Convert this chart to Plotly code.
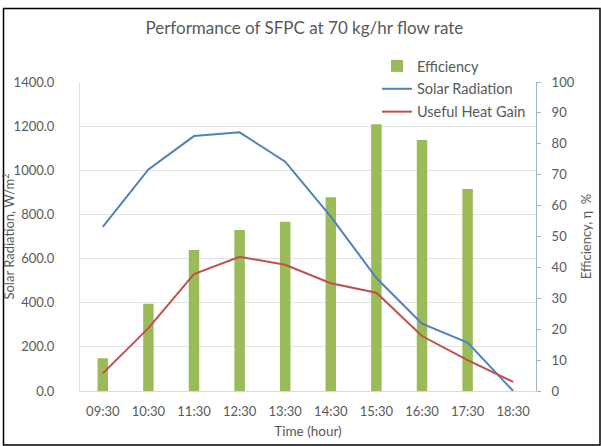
import plotly.graph_objects as go

times = ["09:30", "10:30", "11:30", "12:30", "13:30", "14:30", "15:30", "16:30", "17:30", "18:30"]
efficiency = [10.6, 28.2, 45.6, 52.1, 54.8, 62.7, 86.3, 81.2, 65.4, None]
solar_radiation = [744, 1004, 1155, 1172, 1039, 790, 512, 305, 219, 0]
useful_heat_gain = [80, 285, 530, 608, 572, 488, 445, 249, 140, 41]

left_ticks = [0, 200, 400, 600, 800, 1000, 1200, 1400]
right_ticks = [0, 10, 20, 30, 40, 50, 60, 70, 80, 90, 100]

FONT = "Lato"
TXT = "#595959"

fig = go.Figure()
fig.add_bar(x=times, y=efficiency, name="Efficiency", yaxis="y", legendgroup="a",
            marker=dict(color="#9BBB59", line=dict(width=0)), width=0.23)
fig.add_scatter(x=times, y=solar_radiation, name="Solar Radiation", yaxis="y2", legendgroup="b",
                mode="lines", line=dict(color="#4F81BD", width=2))
fig.add_scatter(x=times, y=useful_heat_gain, name="Useful Heat Gain", yaxis="y2", legendgroup="c",
                mode="lines", line=dict(color="#C0504D", width=2))

fig.update_layout(
    width=601, height=446,
    margin=dict(l=80, r=65, t=82, b=55, autoexpand=False),
    paper_bgcolor="white", plot_bgcolor="white",
    font=dict(family=FONT, size=13, color=TXT),
    title=dict(text="Performance of SFPC at 70 kg/hr flow rate",
               x=0.492, xanchor="center", xref="paper",
               y=1 - 28 / 446, yanchor="middle", yref="container",
               font=dict(family=FONT, size=17, color=TXT)),
    showlegend=True,
    legend=dict(x=(377 - 80) / 456, y=(391 - 50) / 309, xref="paper", yref="paper",
                xanchor="left", yanchor="top", bgcolor="rgba(0,0,0,0)",
                font=dict(family=FONT, size=14.5, color=TXT),
                itemwidth=30, tracegroupgap=1, traceorder="grouped"),
    xaxis=dict(type="category", categoryorder="array", categoryarray=times,
               showgrid=False, showline=True, linecolor="#D9D9D9", linewidth=1,
               ticks="", tickfont=dict(family=FONT, size=13, color=TXT),
               ticklabelstandoff=8, tickangle=0, automargin=False,
               title=dict(text="Time (hour)", font=dict(family=FONT, size=13.5, color=TXT),
                          standoff=8)),
    yaxis=dict(side="right", range=[0, 100], tickvals=right_ticks,
               showgrid=False, zeroline=False, showline=True, automargin=False,
               linecolor="#9DB3D0", linewidth=1, ticks="outside", ticklen=4,
               tickcolor="#9DB3D0", ticklabelstandoff=8,
               tickfont=dict(family=FONT, size=13, color=TXT),
               title=dict(text="Efficiency, η  %", font=dict(family=FONT, size=13, color=TXT),
                          standoff=8)),
    yaxis2=dict(overlaying="y", side="left", range=[0, 1400], tickvals=left_ticks,
                tickformat=".1f", showgrid=True, gridcolor="#E3E3E3", gridwidth=1,
                zeroline=False, showline=True, linecolor="#E3E3E3", linewidth=1,
                ticks="", ticklabelstandoff=22, automargin=False,
                tickfont=dict(family=FONT, size=13, color=TXT),
                title=dict(text="Solar Radiation, W/m<sup>2</sup>",
                           font=dict(family=FONT, size=13, color=TXT), standoff=0)),
)

# outer frame
fig.add_shape(type="rect", xref="paper", yref="paper",
              x0=(3.5 - 80) / 456, x1=(600 - 80) / 456,
              y0=(391 - 445) / 309, y1=(391 - 8.5) / 309,
              line=dict(color="black", width=1.5), fillcolor="rgba(0,0,0,0)", layer="above")

fig.write_html("out.html", config={"displayModeBar": False},
               post_script="document.body.style.margin='0';")
